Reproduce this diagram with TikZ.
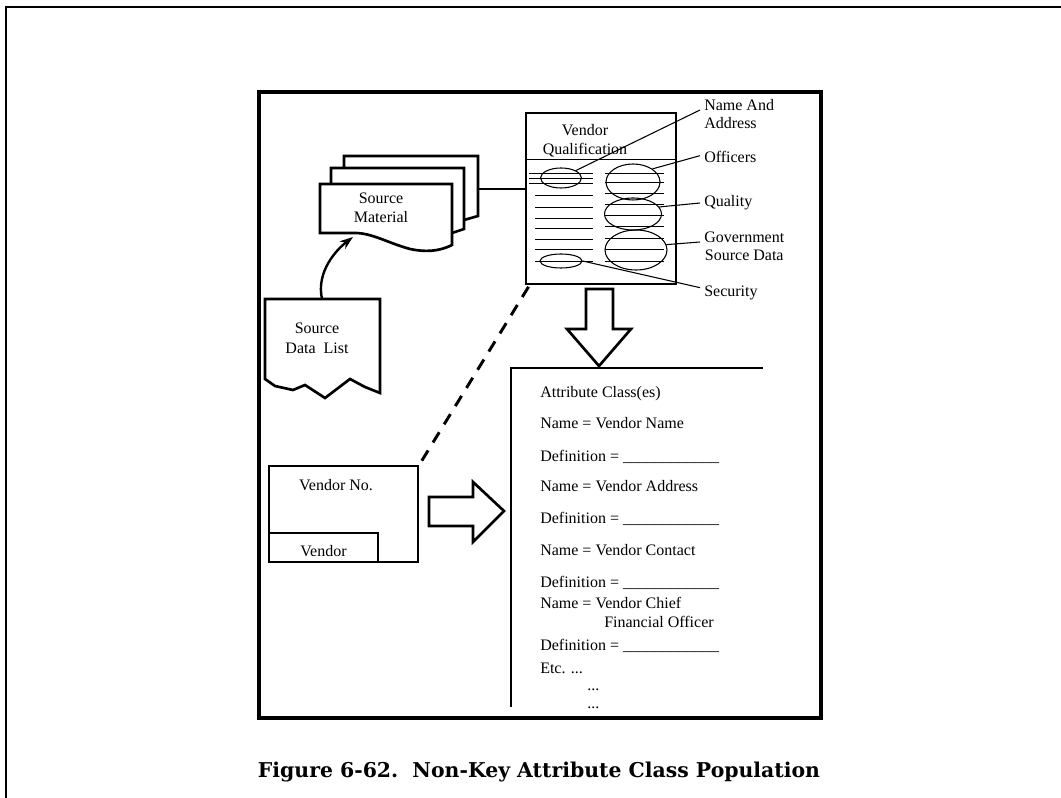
\documentclass[tikz,border=0pt]{standalone}
\usepackage{fontspec}
\setmainfont{Liberation Serif}
\newfontfamily\capfont{DejaVu Serif}
\usetikzlibrary{arrows.meta,positioning,calc,shapes.geometric}
\newcommand{\defblank}{\_\_\_\_\_\_\_\_\_\_\_\_}
\newcommand{\threedots}{...}
\tikzset{
  >={Stealth[length=10pt,width=7pt]},
  frameline/.style={line width=1.6pt},
  heavy/.style={line width=2.2pt},
  sheet/.style={line width=2pt, fill=white, line join=miter},
  rule/.style={line width=.7pt},
  oval/.style={ellipse, draw, line width=.8pt, inner sep=0pt},
  lbl/.style={font=\fontsize{12}{13.5}\selectfont, inner sep=0pt},
  attr/.style={lbl, anchor=base west},
  blockarrow/.style={line width=2pt, fill=white, line join=miter},
  dashlink/.style={line width=2.2pt, dash pattern=on 9pt off 7pt},
  leader/.style={line width=.8pt},
  flow/.style={->, line width=1.8pt}
}
\begin{document}
\begin{tikzpicture}[x=0.75pt,y=-0.75pt]
  \useasboundingbox (0,0) rectangle (1061,798);
  \draw[frameline] (6,798) -- (6,7) -- (1061,7);
  \draw[line width=3pt] (259,92) rectangle (821,718);

  % source material stack
  \draw[sheet] (344,218) -- (344,156) -- (478,156) -- (478,216) -- (464,220) -- cycle;
  \draw[sheet] (331,230) -- (331,168) -- (464,168) -- (464,229) -- (452,233) -- cycle;
  \draw[sheet] (452,245) .. controls (438,252) and (424,252) .. (410,249)
    .. controls (388,243) and (372,233) .. (355,233) -- (320,233) -- (320,184) -- (452,184) -- cycle;
  \node[lbl, align=center, font=\fontsize{12}{14.25}\selectfont] (srcmat) at (381,208) {Source\\Material};
  \coordinate (smright) at (478,189);
  \coordinate (smfoot) at (353,237);

  % source data list
  \draw[sheet] (265,379) -- (265,299) -- (380,299) -- (380,393) -- (365,387) -- (350,379)
    -- (325,398) -- (305,385) -- (293,390) -- (275,386) -- cycle;
  \node[lbl, align=center, font=\fontsize{12}{15}\selectfont] (sdl) at (317,338) {Source\\Data\ \ List};
  \coordinate (sdltop) at (322,299);
  \draw[flow] (sdltop) .. controls (316,272) and (336,250) .. (smfoot);

  % vendor qualification
  \node[draw, heavy, minimum width=112.5pt, minimum height=128.25pt, inner sep=0pt] (vq) at (601,198.5) {};
  \draw[rule] (526,159) -- (676,159);
  \node[lbl, align=center, font=\fontsize{12}{14.25}\selectfont] (vqtitle) at (585,141) {Vendor\\Qualification};
  \foreach \y in {173,178,183}
    \draw[rule] (529,\y) -- (593,\y);
  \foreach \y in {195,207,218,228,239,249,261}
    \draw[rule] (535,\y) -- (593,\y);
  \foreach \y in {173,182,193,204,215,226,238,249,261}
    \draw[rule] (605,\y) -- (664,\y);
  \node[oval, minimum width=30.75pt, minimum height=15pt] (addr) at (561,178) {};
  \node[oval, minimum width=31.5pt, minimum height=10.5pt] (sec) at (561,261) {};
  \node[oval, minimum width=40.5pt, minimum height=27pt] (offc) at (633,182) {};
  \node[oval, minimum width=42.75pt, minimum height=24pt] (qual) at (633,214) {};
  \node[oval, minimum width=46.5pt, minimum height=30pt] (gov) at (636,250) {};

  \node[lbl, align=left, anchor=west] (addrlab) at (704,114) {Name And\\Address};
  \node[lbl, anchor=west] (offclab) at (704,157) {Officers};
  \node[lbl, anchor=west] (quallab) at (704,203) {Quality};
  \node[lbl, align=center, anchor=west] (govlab) at (704,246) {Government\\Source Data};
  \node[lbl, anchor=west] (seclab) at (704,293) {Security};
  \draw[leader] (addr.north east) -- ([xshift=-3pt,yshift=3pt]addrlab.west);
  \draw[leader] (offc.north east) -- ([xshift=-3pt,yshift=1pt]offclab.west);
  \draw[leader] (qual.15) -- ([xshift=-3pt]quallab.west);
  \draw[leader] (gov.10) -- ([xshift=-3pt,yshift=3pt]govlab.west);
  \draw[leader] (sec.east) -- ([xshift=-3pt,yshift=4pt]seclab.west);

  \draw[heavy] (smright) -- (smright -| vq.west);

  % vendor box
  \node[draw, heavy, minimum width=111.75pt, minimum height=72pt, inner sep=0pt] (vno) at (343.5,514) {};
  \node[lbl] (vnotxt) at (336,485) {Vendor No.};
  \node[draw, heavy, lbl, text height=13pt, minimum width=81.75pt, minimum height=21.75pt] (vend) at (323.5,547.5) {Vendor};
  \draw[dashlink] ([xshift=3pt,yshift=-1pt]vq.south west) -- (vno.north east);

  % block arrows
  \draw[blockarrow] (586,289) -- (613,289) -- (613,329) -- (631,329) -- (599,366)
    -- (567,329) -- (586,329) -- cycle;
  \draw[blockarrow] (429,497) -- (473,497) -- (473,482) -- (504,511) -- (473,542)
    -- (473,526) -- (429,526) -- cycle;

  % attribute classes
  \draw[heavy] (511,707) -- (511,368) -- (763,368);
  \foreach \x/\y/\t in {540/398/Attribute Class(es), 540/429/Name = Vendor Name,
      540/462/Definition = \defblank, 540/492/Name = Vendor Address,
      540/523/Definition = \defblank, 540/556/Name = Vendor Contact,
      540/588/Definition = \defblank, 540/609/Name = Vendor Chief,
      604/628/Financial Officer, 540/650/Definition = \defblank,
      540/673/Etc. \threedots, 587/690/\threedots, 587/708/\threedots}
    \node[attr] (attr\y) at (\x,\y) {\t};

  \node[font=\capfont\bfseries\fontsize{15.3}{18}\selectfont] (cap) at (539,772)
    {Figure 6-62.\ \ Non-Key Attribute Class Population};
\end{tikzpicture}
\end{document}
